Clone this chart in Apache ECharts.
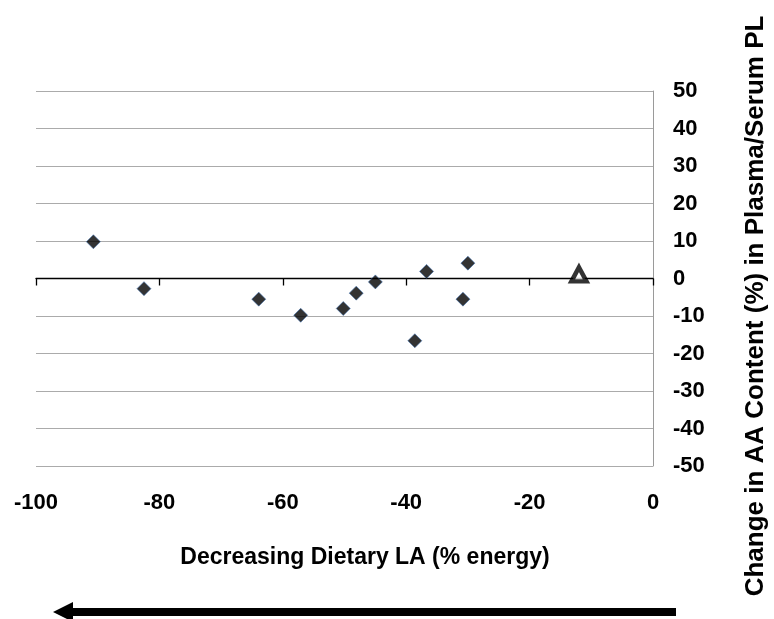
<!DOCTYPE html>
<html>
<head>
<meta charset="utf-8">
<script src="https://cdn.jsdelivr.net/npm/echarts@6/dist/echarts.min.js"></script>
<style>
  html, body { margin: 0; padding: 0; background: #ffffff; }
  #chart { width: 774px; height: 619px; }
</style>
</head>
<body>
<div id="chart"></div>
<script>
// Change in dietary LA (% energy) for each study
const laChange = [-90.7, -82.5, -63.9, -57.1, -50.2, -48.1, -45.0, -38.6, -36.7, -30.8, -30.0];
// Matching change in AA content (%) of plasma/serum phospholipids
const aaChange = [9.8, -2.7, -5.5, -9.8, -8.0, -3.9, -0.9, -16.6, 1.9, -5.5, 4.1];
// Separate study shown with an open triangle
const triangleLA = [-12.0];
const triangleAA = [1.1];

const xTicks = { min: -100, max: 0, step: 20 };
const yTicks = { min: -50, max: 50, step: 10 };

const xTitle = 'Decreasing Dietary LA (% energy)';
const yTitle = 'Change in AA Content (%) in Plasma/Serum PL';

const FONT = '"Liberation Sans", Arial, Helvetica, sans-serif';

const chart = echarts.init(document.getElementById('chart'), null, { renderer: 'canvas' });

const diamondPoints = laChange.map((x, i) => [x, aaChange[i]]);
const trianglePoints = triangleLA.map((x, i) => [x, triangleAA[i]]);

chart.setOption({
  backgroundColor: '#ffffff',
  animation: false,
  grid: { left: 36, right: 121, top: 91, bottom: 153, containLabel: false, outerBoundsMode: 'none' },
  xAxis: [
    {
      // axis line running through y = 0, with its tick marks
      type: 'value',
      min: xTicks.min, max: xTicks.max, interval: xTicks.step,
      position: 'bottom',
      axisLine: { show: true, onZero: true, lineStyle: { color: '#000000', width: 1.3 } },
      axisTick: { show: true, inside: false, length: 7, lineStyle: { color: '#000000', width: 1.3 } },
      axisLabel: { show: false },
      splitLine: { show: false }
    },
    {
      // tick labels along the bottom of the plot
      type: 'value',
      min: xTicks.min, max: xTicks.max, interval: xTicks.step,
      position: 'bottom',
      axisLine: { show: false, onZero: false },
      axisTick: { show: false },
      splitLine: { show: false },
      axisLabel: {
        show: true, margin: 26, color: '#000000',
        fontFamily: FONT, fontWeight: 'bold', fontSize: 22
      }
    }
  ],
  yAxis: {
    type: 'value',
    min: yTicks.min, max: yTicks.max, interval: yTicks.step,
    position: 'right',
    axisLine: { show: true, onZero: false, lineStyle: { color: '#9a9a9a', width: 1 } },
    axisTick: { show: false },
    splitLine: { show: true, lineStyle: { color: '#ababab', width: 1.2 } },
    axisLabel: {
      show: true, margin: 20, color: '#000000',
      fontFamily: FONT, fontWeight: 'bold', fontSize: 22
    }
  },
  graphic: [
    {
      type: 'text',
      x: 365, y: 558,
      style: {
        text: xTitle,
        fill: '#000000',
        font: 'bold 23px ' + FONT,
        align: 'center',
        verticalAlign: 'middle'
      }
    },
    {
      type: 'text',
      x: 756, y: 306,
      rotation: Math.PI / 2,
      style: {
        text: yTitle,
        fill: '#000000',
        font: 'bold 26px ' + FONT,
        align: 'center',
        verticalAlign: 'middle'
      }
    },
    {
      // direction arrow under the axis title
      type: 'group',
      children: [
        { type: 'rect', shape: { x: 70, y: 608, width: 606, height: 8 }, style: { fill: '#000000' } },
        { type: 'polygon', shape: { points: [[53, 612], [73, 602], [73, 622]] }, style: { fill: '#000000' } }
      ]
    }
  ],
  series: [
    {
      type: 'scatter',
      xAxisIndex: 0,
      data: diamondPoints,
      symbol: 'diamond',
      symbolSize: 14,
      itemStyle: { color: '#000000', borderColor: '#3d6fb0', borderWidth: 0.7 },
      z: 5
    },
    {
      type: 'scatter',
      xAxisIndex: 0,
      data: trianglePoints,
      symbol: 'triangle',
      symbolSize: [15, 14],
      itemStyle: { color: '#ffffff', borderColor: '#000000', borderWidth: 4.5 },
      z: 5
    }
  ]
});
</script>
</body>
</html>
